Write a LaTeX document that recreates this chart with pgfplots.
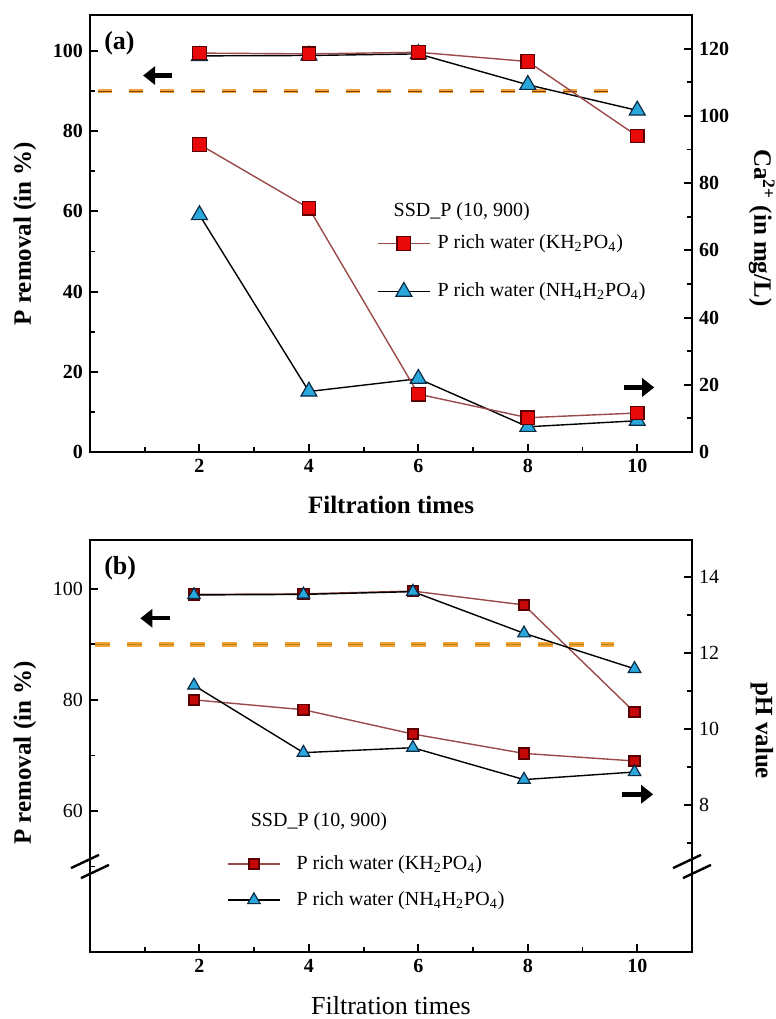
\documentclass[border=0pt]{standalone}
\usepackage{pgfplots}
\pgfplotsset{compat=1.18}
\usepackage{fontspec}
\setmainfont{Liberation Serif}
\usetikzlibrary{arrows.meta,calc}
\definecolor{kred}{HTML}{E80A0A}
\definecolor{kredD}{HTML}{5A0000}
\definecolor{kline}{HTML}{9A4A4A}
\definecolor{tblue}{HTML}{2AA8DC}
\definecolor{tblueD}{HTML}{0A2A45}
\definecolor{dorange}{HTML}{F2A33A}
\definecolor{dbrown}{HTML}{7A3A10}
\definecolor{dyel}{HTML}{B8820F}

\pgfplotsset{
  common/.style={scale only axis, width=301pt, xmin=0, xmax=11,
    tick align=inside, major tick length=4pt, minor tick length=2.5pt,
    axis line style={line width=1.3pt},
    major tick style={line width=1pt, black}, minor tick style={line width=0.9pt, black},
    /pgf/number format/assume math mode=true, clip=false},
}
\tikzset{
  redA/.style={color=kline, line width=0.7pt, mark=square*, mark size=3.4pt,
    mark options={fill=kred, draw=kredD, line width=0.6pt, solid}},
  blueA/.style={black, line width=0.7pt, mark=triangle*, mark size=4.6pt,
    mark options={fill=tblue, draw=tblueD, line width=0.6pt, solid}},
  redB/.style={color=kline, line width=0.7pt, mark=square*, mark size=2.6pt,
    mark options={fill=kred!85!black, draw=kredD, line width=0.9pt, solid}},
  blueB/.style={black, line width=0.7pt, mark=triangle*, mark size=3.6pt,
    mark options={fill=tblue, draw=tblueD, line width=0.6pt, solid}},
  bigarrow/.style={line width=2.2pt, -{Triangle[length=6pt,width=9pt]}},
}

\begin{document}
\begin{tikzpicture}
\useasboundingbox (0,0) rectangle (388pt,509.5pt);

% ---------------- panel (a) left axis ----------------
\begin{axis}[common, at={(45pt,283.5pt)}, anchor=south west, height=218.5pt,
  ymin=0, ymax=109,
  ytick={0,20,...,100}, minor ytick={10,30,...,90},
  xtick={2,4,...,10}, minor xtick={1,3,...,9},
  xtick pos=bottom, ytick pos=left,
  tick label style={font=\fontsize{10}{10}\selectfont\bfseries},
  xlabel={Filtration times}, ylabel={P removal (in \%)},
  label style={font=\fontsize{12.5}{14}\selectfont\bfseries},
  xlabel style={at={(axis description cs:0.5,-0.122)}, anchor=center},
  ylabel style={at={(axis description cs:-0.108,0.5)}, anchor=center},
  legend image code/.code={\draw[mark repeat=2, mark phase=2, #1] plot coordinates {(0pt,0pt) (13pt,0pt) (26pt,0pt)};},
  legend style={draw=none, fill=none, at={(axis cs:5.24,46.0)}, anchor=west,
    inner sep=0pt, row sep=15pt, column sep=3.5pt,
    nodes={inner sep=0pt, text height=7pt, text depth=2pt, font=\fontsize{10}{12}\selectfont}},
  legend cell align=left,
]
\addplot[forget plot, dorange, line width=2pt, dash pattern=on 7pt off 8.5pt] coordinates {(0.15,90) (9.6,90)};
\addplot[forget plot, dbrown, line width=0.6pt, dash pattern=on 7pt off 8.5pt] coordinates {(0.15,90) (9.6,90)};
\addplot[forget plot, blueA] coordinates {(2,98.8) (4,98.9) (6,99.3) (8,91.6) (10,85.2)};
\addplot[forget plot, redA] coordinates {(2,99.5) (4,99.3) (6,99.7) (8,97.4) (10,78.8)};
\addlegendimage{redA}
\addlegendentry{P rich water (KH\textsubscript{2}PO\textsubscript{4})}
\addlegendimage{blueA}
\addlegendentry{P rich water (NH\textsubscript{4}H\textsubscript{2}PO\textsubscript{4})}
\node[anchor=west, font=\fontsize{10}{12}\selectfont] at (axis cs:5.42,60) {SSD\_P (10, 900)};
\node[anchor=west, font=\fontsize{13}{13}\selectfont\bfseries] at (rel axis cs:0.012,0.935) {(a)};
\draw[bigarrow] (axis cs:1.5,93.9) -- (axis cs:0.97,93.9);
\draw[bigarrow] (axis cs:9.75,16.1) -- (axis cs:10.31,16.1);
\end{axis}

% ---------------- panel (a) right axis ----------------
\begin{axis}[common, at={(45pt,283.5pt)}, anchor=south west, height=218.5pt,
  ymin=0, ymax=130, axis x line=none, axis y line*=right,
  ytick={0,20,...,120}, minor ytick={10,30,...,110},
  tick label style={font=\fontsize{10}{10}\selectfont\bfseries},
  ylabel={Ca\textsuperscript{2+} (in mg/L)},
  ylabel style={font=\fontsize{12.5}{14}\selectfont\bfseries, at={(axis description cs:1.116,0.513)}, anchor=center, rotate=180},
]
\addplot[blueA] coordinates {(2,70.5) (4,18) (6,21.8) (8,7.5) (10,9.3)};
\addplot[redA] coordinates {(2,91.5) (4,72.5) (6,17.2) (8,10.2) (10,11.6)};
\end{axis}

% ---------------- panel (b) left axis ----------------
\begin{axis}[common, at={(45pt,33.5pt)}, anchor=south west, height=206pt,
  ymin=34.6, ymax=108.8,
  ytick={60,80,100}, minor ytick={50,70,90},
  xtick={2,4,...,10}, minor xtick={1,3,...,9},
  xtick pos=bottom, ytick pos=left,
  xticklabel style={font=\fontsize{10}{10}\selectfont\bfseries},
  yticklabel style={font=\fontsize{10}{10}\selectfont},
  xlabel={Filtration times}, ylabel={P removal (in \%)},
  xlabel style={font=\fontsize{13}{14}\selectfont, at={(axis description cs:0.5,-0.129)}, anchor=center},
  ylabel style={font=\fontsize{12.5}{14}\selectfont\bfseries, at={(axis description cs:-0.108,0.483)}, anchor=center},
  legend image code/.code={\draw[mark repeat=2, mark phase=2, #1] plot coordinates {(0pt,0pt) (13pt,0pt) (26pt,0pt)};},
  legend style={draw=none, fill=none, at={(axis cs:2.5,47.2)}, anchor=west,
    inner sep=0pt, row sep=9pt, column sep=8pt,
    nodes={inner sep=0pt, text height=7pt, text depth=2pt, font=\fontsize{10}{12}\selectfont}},
  legend cell align=left,
]
\addplot[forget plot, dorange, line width=2.2pt, dash pattern=on 7.5pt off 8.3pt] coordinates {(0.1,90) (9.57,90)};
\addplot[forget plot, dyel, line width=0.8pt, dash pattern=on 7.5pt off 8.3pt] coordinates {(0.1,90) (9.57,90)};
\addplot[forget plot, redB] coordinates {(1.9,99.0) (3.9,99.1) (5.9,99.6) (7.93,97.1) (9.95,77.8)};
\addplot[forget plot, blueB] coordinates {(1.9,98.9) (3.9,99.0) (5.9,99.5) (7.93,92.0) (9.95,85.6)};
\addlegendimage{redB}
\addlegendentry{P rich water (KH\textsubscript{2}PO\textsubscript{4})}
\addlegendimage{blueB}
\addlegendentry{P rich water (NH\textsubscript{4}H\textsubscript{2}PO\textsubscript{4})}
\node[anchor=west, font=\fontsize{10}{12}\selectfont] at (axis cs:2.81,58) {SSD\_P (10, 900)};
\node[anchor=west, font=\fontsize{13}{13}\selectfont\bfseries] at (rel axis cs:0.012,0.932) {(b)};
\draw[bigarrow] (axis cs:1.46,94.7) -- (axis cs:0.92,94.7);
\draw[bigarrow] (axis cs:9.72,63.0) -- (axis cs:10.29,63.0);
% axis breaks
\draw[line width=1.2pt] ($(axis cs:0,50)+(-9.5pt,-0.8pt)$) -- ($(axis cs:0,50)+(4.5pt,5.8pt)$);
\draw[line width=1.2pt] ($(axis cs:0,50)+(-4.5pt,-5.8pt)$) -- ($(axis cs:0,50)+(9.5pt,0.8pt)$);
\draw[line width=1.2pt] ($(axis cs:11,50)+(-9.5pt,-0.8pt)$) -- ($(axis cs:11,50)+(4.5pt,5.8pt)$);
\draw[line width=1.2pt] ($(axis cs:11,50)+(-4.5pt,-5.8pt)$) -- ($(axis cs:11,50)+(9.5pt,0.8pt)$);
\end{axis}

% ---------------- panel (b) right axis ----------------
\begin{axis}[common, at={(45pt,33.5pt)}, anchor=south west, height=206pt,
  ymin=4.12, ymax=14.97, axis x line=none, axis y line*=right,
  ytick={8,10,12,14}, minor ytick={7,9,11,13},
  yticklabel style={font=\fontsize{10}{10}\selectfont},
  ylabel={pH value},
  ylabel style={font=\fontsize{12.5}{14}\selectfont\bfseries, at={(axis description cs:1.116,0.537)}, anchor=center, rotate=180},
]
\addplot[redB] coordinates {(1.9,10.76) (3.9,10.5) (5.9,9.86) (7.93,9.35) (9.95,9.15)};
\addplot[blueB] coordinates {(1.9,11.14) (3.9,9.37) (5.9,9.5) (7.93,8.66) (9.95,8.86)};
\end{axis}
\end{tikzpicture}
\end{document}
